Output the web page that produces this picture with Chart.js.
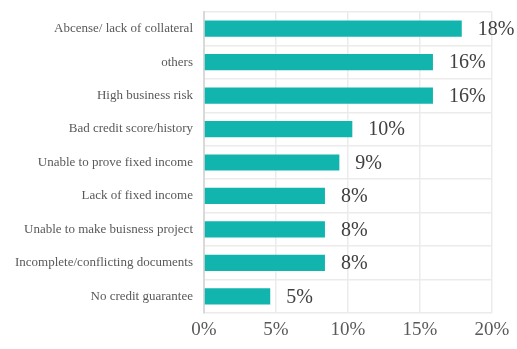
<!DOCTYPE html>
<html>
<head>
    <title>Reasons for loan rejection</title>
    <script src="https://cdn.jsdelivr.net/npm/chart.js"></script>
    <style>
        html, body { margin: 0; padding: 0; background: #fff; }
        .chart-container { width: 517px; height: 349px; position: relative; }
    </style>
</head>
<body>
    <div class="chart-container">
        <canvas id="reasonChart"></canvas>
    </div>

    <script>
        // categories, top to bottom
        const reasons = [
            'Abcense/ lack of collateral',
            'others',
            'High business risk',
            'Bad credit score/history',
            'Unable to prove fixed income',
            'Lack of fixed income',
            'Unable to make buisness project',
            'Incomplete/conflicting documents',
            'No credit guarantee'
        ];
        // share of respondents (%)
        const shares = [17.9, 15.9, 15.9, 10.3, 9.4, 8.4, 8.4, 8.4, 4.6];
        // x axis ticks (%)
        const xTicks = [0, 5, 10, 15, 20];

        const barColor = '#12b5ae';
        const serif = '"Liberation Serif", "Times New Roman", serif';

        // percentage text to the right of every bar
        const valueLabels = {
            id: 'valueLabels',
            afterDatasetsDraw(chart) {
                const ctx = chart.ctx;
                const meta = chart.getDatasetMeta(0);
                ctx.save();
                ctx.font = '20px ' + serif;
                ctx.fillStyle = '#404040';
                ctx.textAlign = 'left';
                ctx.textBaseline = 'middle';
                meta.data.forEach((bar, i) => {
                    ctx.fillText(Math.round(shares[i]) + '%', bar.x + 16, bar.y + 1);
                });
                ctx.restore();
            }
        };

        const ctx = document.getElementById('reasonChart').getContext('2d');
        new Chart(ctx, {
            type: 'bar',
            data: {
                labels: reasons,
                datasets: [{
                    data: shares,
                    backgroundColor: barColor,
                    borderWidth: 0,
                    barPercentage: 0.97,
                    categoryPercentage: 0.5
                }]
            },
            options: {
                indexAxis: 'y',
                responsive: true,
                maintainAspectRatio: false,
                animation: false,
                layout: { padding: { top: 12, right: 25, left: 0, bottom: 0 } },
                plugins: {
                    legend: { display: false },
                    tooltip: { enabled: false }
                },
                scales: {
                    x: {
                        min: 0,
                        max: 20,
                        afterBuildTicks: scale => { scale.ticks = xTicks.map(v => ({ value: v })); },
                        afterFit: scale => { scale.height = 36; },
                        grid: { color: '#ebebeb', lineWidth: 1.5, drawTicks: false },
                        border: { display: false },
                        ticks: {
                            padding: 6,
                            color: '#595959',
                            font: { family: serif, size: 19 },
                            callback: v => v + '%'
                        }
                    },
                    y: {
                        afterFit: scale => {
                            scale.width = 204;
                            scale.paddingTop = 0;
                            scale.paddingBottom = 0;
                        },
                        grid: { color: '#ebebeb', lineWidth: 1.5, drawTicks: false, offset: true },
                        border: { color: '#d9d9d9', width: 2 },
                        ticks: {
                            padding: 11,
                            color: '#595959',
                            font: { family: serif, size: 13 }
                        }
                    }
                }
            },
            plugins: [valueLabels]
        });
    </script>
</body>
</html>
